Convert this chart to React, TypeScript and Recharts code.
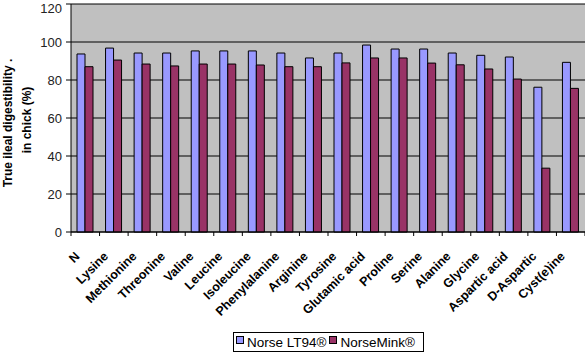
import React from 'react';
import { BarChart, Bar, XAxis, YAxis, CartesianGrid, Legend } from 'recharts';

const aminoAcids = [
  'N', 'Lysine', 'Methionine', 'Threonine', 'Valine', 'Leucine', 'Isoleucine',
  'Phenylalanine', 'Arginine', 'Tyrosine', 'Glutamic acid', 'Proline', 'Serine',
  'Alanine', 'Glycine', 'Aspartic acid', 'D-Aspartic', 'Cyst(e)ine',
];
const norseLT94 = [93.7, 96.8, 94.2, 94.2, 95.3, 95.3, 95.3, 94.2, 91.6, 94.2, 98.4, 96.3, 96.3, 94.2, 93.0, 92.1, 76.2, 89.3];
const norseMink = [87.0, 90.5, 88.4, 87.4, 88.4, 88.4, 87.9, 87.0, 87.0, 89.0, 91.6, 91.6, 88.9, 88.0, 85.8, 80.5, 33.6, 75.6];
const yTicks = [0, 20, 40, 60, 80, 100, 120];

const SERIES = [
  { key: 'lt94', name: 'Norse LT94®', color: '#9999ff' },
  { key: 'mink', name: 'NorseMink®', color: '#993366' },
];

const data = aminoAcids.map((name, i) => ({ name, lt94: norseLT94[i], mink: norseMink[i] }));

const FONT = 'Liberation Sans, Arial, sans-serif';
const PLOT_LEFT = 71;
const CHART_W = 585;
const BAND = (CHART_W - PLOT_LEFT) / aminoAcids.length;

function AminoTick(props: any) {
  const { x, y, payload, index } = props;
  const last = index === aminoAcids.length - 1;
  return (
    <g>
      <line x1={x - BAND / 2} x2={x - BAND / 2} y1={y} y2={y + 4} stroke="#000" />
      {last && <line x1={x + BAND / 2} x2={x + BAND / 2} y1={y} y2={y + 4} stroke="#000" />}
      <g transform={`translate(${x - 5}, ${y + 25}) rotate(-45)`}>
        <text x={0} y={0} textAnchor="end" fontSize={12.5} fontWeight="bold" fill="#000" fontFamily={FONT}>
          {payload.value}
        </text>
      </g>
    </g>
  );
}

function AxisTitle() {
  return (
    <g fontFamily={FONT} fontWeight="bold" fontSize={12} fill="#000">
      <g transform="translate(12, 123) rotate(-90)">
        <text x={0} y={0} textAnchor="middle">True ileal digestibility .</text>
      </g>
      <g transform="translate(31, 120) rotate(-90)">
        <text x={0} y={0} textAnchor="middle">in chick (%)</text>
      </g>
    </g>
  );
}

function LegendBox() {
  return (
    <div
      style={{
        display: 'flex',
        alignItems: 'center',
        border: '1px solid #000',
        background: '#fff',
        width: 191,
        height: 20,
        padding: '0 2px',
        boxSizing: 'border-box',
        fontFamily: FONT,
        fontSize: 13.5,
        color: '#000',
        whiteSpace: 'nowrap',
      }}
    >
      {SERIES.map((s) => (
        <span key={s.key} style={{ display: 'inline-flex', alignItems: 'center', marginRight: 3 }}>
          <span style={{ width: 6, height: 6, background: s.color, border: '1px solid #000', marginRight: 3, marginTop: -4 }} />
          {s.name}
        </span>
      ))}
    </div>
  );
}

export default function App() {
  return (
    <div style={{ position: 'fixed', left: 0, top: 0, width: CHART_W, height: 352, background: '#fff' }}>
      <BarChart
        width={CHART_W}
        height={352}
        data={data}
        margin={{ top: 4, right: 0, left: 0, bottom: 0 }}
        barGap={0}
        barSize={8}
      >
        <CartesianGrid vertical={false} stroke="#000" fill="#c0c0c0" fillOpacity={1} />
        <XAxis
          dataKey="name"
          interval={0}
          height={120}
          axisLine={{ stroke: '#000' }}
          tickLine={false}
          tickSize={0}
          tickMargin={0}
          tick={<AminoTick />}
        />
        <YAxis
          domain={[0, 120]}
          ticks={yTicks}
          width={PLOT_LEFT}
          axisLine={{ stroke: '#000' }}
          tickLine={{ stroke: '#000' }}
          tickSize={5}
          tickMargin={4}
          tick={{ fontSize: 13, fill: '#222', fontFamily: FONT }}
          label={{ content: () => <AxisTitle /> }}
        />
        <Legend
          layout="horizontal"
          verticalAlign="middle"
          align="center"
          content={() => <LegendBox />}
          wrapperStyle={{ left: 233, top: 332, width: 191 }}
        />
        {SERIES.map((s) => (
          <Bar
            key={s.key}
            dataKey={s.key}
            name={s.name}
            fill={s.color}
            stroke="#000"
            strokeWidth={1}
            isAnimationActive={false}
          />
        ))}
      </BarChart>
    </div>
  );
}
